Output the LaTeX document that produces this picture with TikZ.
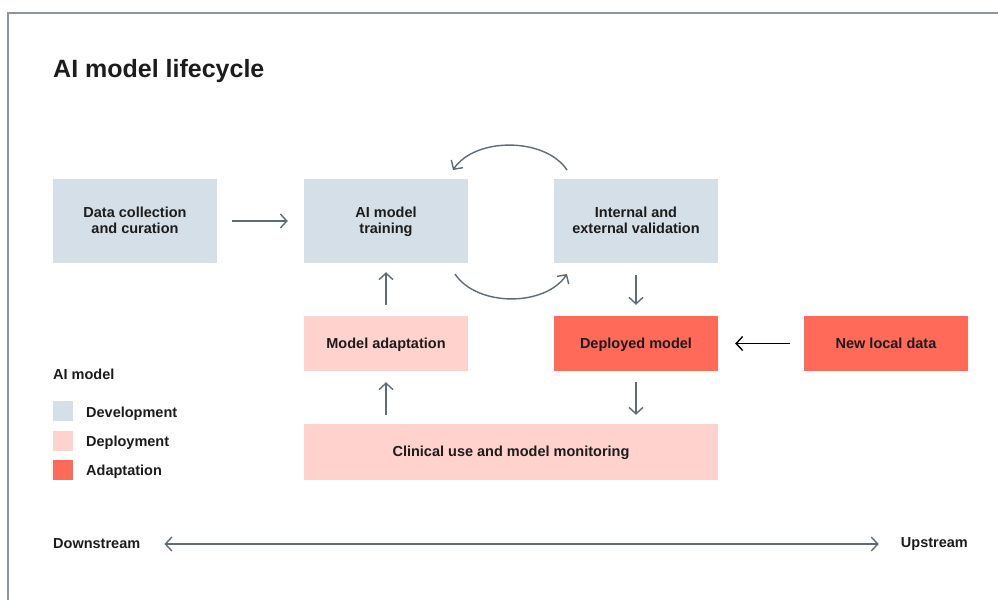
\documentclass[tikz,border=0pt]{standalone}
\usepackage{fontspec}
\setmainfont{Liberation Sans}
\usetikzlibrary{arrows.meta}
\definecolor{devc}{HTML}{D5DFE7}
\definecolor{depc}{HTML}{FFD2CD}
\definecolor{adac}{HTML}{FF6A59}
\definecolor{arrc}{HTML}{5F6B75}
\definecolor{framec}{HTML}{8C969E}
\definecolor{txtc}{HTML}{1C1C1C}
\tikzset{
  box/.style={rectangle, inner sep=0pt, minimum width=164pt, minimum height=84pt, align=center,
    font=\fontsize{14.5}{16.5}\selectfont\bfseries, text=txtc, text depth=1.5pt},
  smallbox/.style={box, minimum height=55pt},
  dev/.style={fill=devc},
  dep/.style={fill=depc},
  ada/.style={fill=adac},
  tip/.style={-{Straight Barb[length=6.5pt,width=14pt,line width=1.4pt]}},
  conn/.style={draw=arrc, line width=1.4pt, tip},
  lab/.style={font=\fontsize{14.5}{17}\selectfont\bfseries, text=txtc, inner sep=0pt, anchor=west},
  legsq/.style={rectangle, inner sep=0pt, minimum width=20pt, minimum height=20pt, anchor=north west}
}
\begin{document}
\begin{tikzpicture}[x=1pt, y=-1pt]
\useasboundingbox (0,0) rectangle (998,600);
% frame
\draw[framec, line width=2pt] (8,600) -- (8,12.5) -- (998,12.5);
% title
\node[font=\fontsize{25}{29}\selectfont\bfseries, text=txtc, anchor=west, inner sep=0pt] (title) at (53,71) {AI model lifecycle};
% boxes
\node[box, dev] (data) at (135,221) {Data collection\\and curation};
\node[box, dev] (train) at (386,221) {AI model\\training};
\node[box, dev] (valid) at (636,221) {Internal and\\external validation};
\node[smallbox, dep] (adapt) at (386,343.5) {Model adaptation};
\node[smallbox, ada] (deploy) at (636,343.5) {Deployed model};
\node[smallbox, ada] (newdata) at (886,343.5) {New local data};
\node[smallbox, dep, minimum width=414pt, minimum height=56pt] (clin) at (511,452) {Clinical use and model monitoring};
% connectors
\draw[conn, shorten <=15pt, shorten >=16pt] (data.east) -- (train.west);
\draw[conn, shorten <=12pt, shorten >=11pt] (valid.south) -- (deploy.north);
\draw[conn, shorten <=11pt, shorten >=9pt] (adapt.north) -- (train.south);
\draw[conn, shorten <=11pt, shorten >=9pt] (deploy.south) -- (deploy.south |- clin.north);
\draw[conn, shorten <=9pt, shorten >=11pt] (adapt.south |- clin.north) -- (adapt.south);
\draw[conn, draw=black, shorten <=14pt, shorten >=17pt] (newdata.west) -- (deploy.east);
% arcs
\coordinate (a1) at (567,170);
\coordinate (a2) at (453,170);
\coordinate (b1) at (455,274);
\coordinate (b2) at (567,274);
\draw[conn] (a1) .. controls (545,137) and (475,137) .. (a2);
\draw[conn] (b1) .. controls (477,307) and (545,307) .. (b2);
% legend
\node[lab] (leghead) at (53,374) {AI model};
\node[legsq, fill=devc] (sq1) at (53,401) {};
\node[legsq, fill=depc] (sq2) at (53,431) {};
\node[legsq, fill=adac] (sq3) at (53,460) {};
\node[lab] (l1) at (86,414) {Development};
\node[lab] (l2) at (86,443) {Deployment};
\node[lab] (l3) at (86,472) {Adaptation};
% stream axis
\node[lab] (down) at (53,544) {Downstream};
\node[lab, anchor=east] (up) at (968,544) {Upstream};
\draw[draw=arrc, line width=1.4pt, {Straight Barb[length=6.5pt,width=14pt,line width=1.4pt]}-{Straight Barb[length=6.5pt,width=14pt,line width=1.4pt]}, shorten <=24pt, shorten >=22pt] (down.east) -- (up.west);
\end{tikzpicture}
\end{document}
